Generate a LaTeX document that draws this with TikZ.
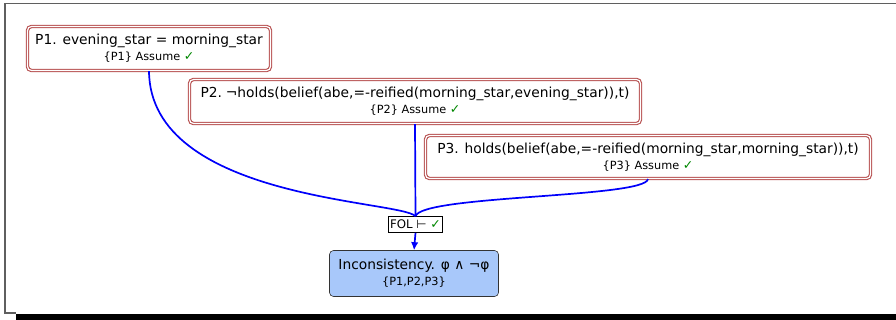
\documentclass[tikz,border=0pt]{standalone}
\usepackage{fontspec}
\setmainfont{DejaVu Sans}
\usetikzlibrary{arrows.meta}
\definecolor{premred}{RGB}{182,78,78}
\definecolor{okgreen}{RGB}{0,135,0}
\definecolor{linkblue}{RGB}{0,0,250}
\definecolor{incfill}{RGB}{168,200,250}
\definecolor{framegray}{RGB}{95,95,95}
\newcommand{\ok}{\textcolor{okgreen}{\fontsize{12.5}{12}\selectfont ✓}}
\newcommand{\subline}{\fontsize{11.3}{13}\selectfont}
\tikzset{
  premise/.style={draw=premred, double=white, double distance=1.2pt, line width=1.1pt,
    rounded corners=4pt, align=center, inner sep=0pt, font=\fontsize{13.8}{17}\selectfont},
  rulebox/.style={draw=black, line width=0.6pt, fill=white, inner sep=1pt,
    minimum width=54pt, minimum height=16pt, font=\fontsize{11.8}{12}\selectfont},
  result/.style={draw=black!80, line width=0.6pt, fill=incfill, rounded corners=4pt,
    align=center, inner sep=0pt, minimum width=169pt, minimum height=46pt,
    font=\fontsize{13.8}{17}\selectfont},
  link/.style={draw=linkblue, line width=1.7pt},
  frameline/.style={draw=framegray, line width=1.3pt}
}
\begin{document}
\begin{tikzpicture}[x=1pt, y=-1pt]
  \useasboundingbox (0,0) rectangle (896,320);
  % window frame
  \draw[frameline] (896,3.5) -- (5,3.5) -- (5,313) -- (16,313);
  \fill[black] (16,314) rectangle (896,320);

  % premises
  \node[premise, minimum width=243pt, minimum height=44pt] (p1) at (149,48.5)
    {P1. evening\_star = morning\_star\\[-1pt]{\subline \{P1\} Assume \ok}};
  \node[premise, minimum width=451pt, minimum height=44pt] (p2) at (415,101.5)
    {P2.\kern-2pt{} ¬holds(belief(abe,=-reified(morning\_star,evening\_star)),t)\\[-1pt]{\subline \{P2\} Assume \ok}};
  \node[premise, minimum width=445pt, minimum height=43pt] (p3) at (648,157)
    {P3. holds(belief(abe,=-reified(morning\_star,morning\_star)),t)\\[-1pt]{\subline \{P3\} Assume \ok}};

  % inference step and conclusion
  \node[rulebox] (fol) at (415.5,224.5) {FOL ⊢ \ok};
  \node[result] (inc) at (414,273.5)
    {Inconsistency. φ ∧ ¬φ\\[-1pt]{\subline \{P1,P2,P3\}}};

  % connectors
  \draw[link] (p1.south) .. controls (150,200) and (400,200) .. (fol.north);
  \draw[link] (p2.south) -- (fol.north);
  \draw[link] (p3.south) .. controls (645,198) and (422,195) .. (fol.north);
  \draw[link, -{Latex[length=8pt, width=7.5pt]}] (fol.south) -- (inc.north);
\end{tikzpicture}
\end{document}
